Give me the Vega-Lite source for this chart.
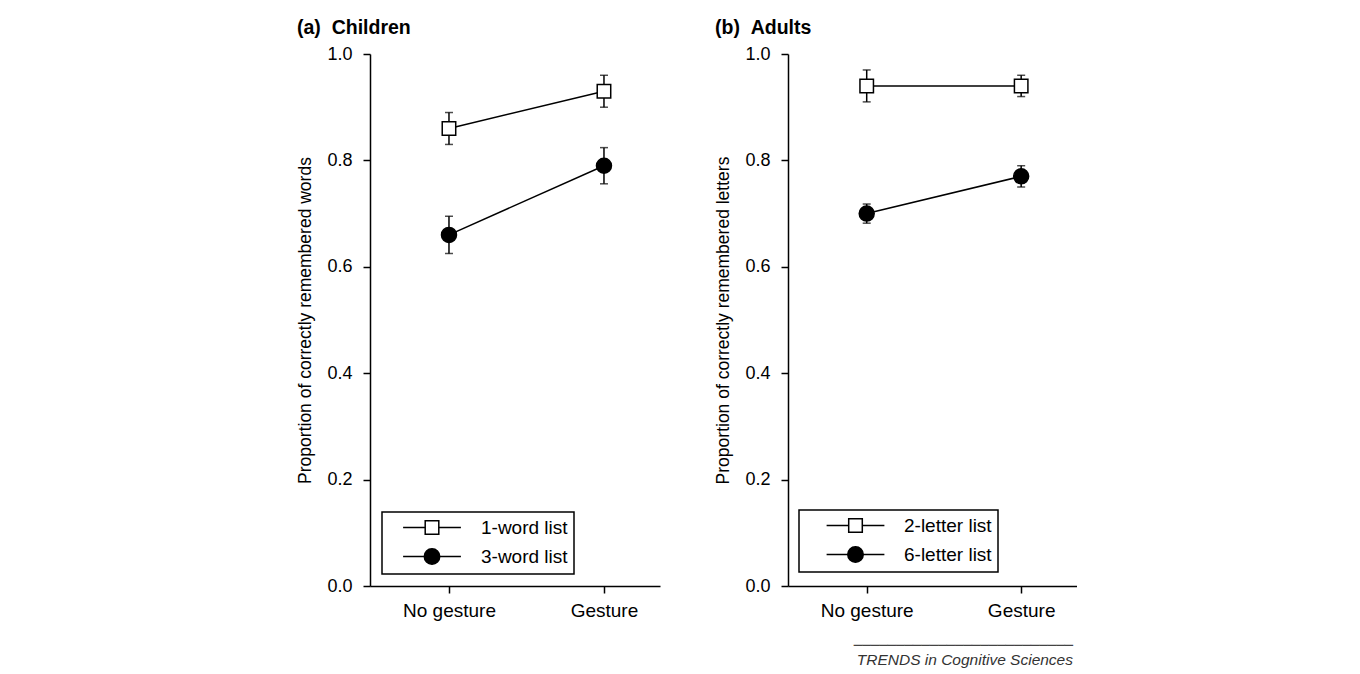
{
  "$schema": "https://vega.github.io/schema/vega-lite/v6.json",
  "background": "white",
  "padding": {"left": 296, "top": 17, "right": 0, "bottom": 0},
  "config": {
    "font": "Liberation Sans",
    "view": {"stroke": null},
    "axis": {
      "grid": false,
      "domainColor": "black",
      "domainWidth": 1.5,
      "tickColor": "black",
      "tickWidth": 1.5,
      "tickSize": 7,
      "labelColor": "black",
      "labelFont": "Liberation Sans",
      "labelFontSize": 18,
      "titleColor": "black",
      "titleFont": "Liberation Sans",
      "titleFontSize": 17.5,
      "titleFontWeight": "normal"
    },
    "axisY": {"labelPadding": 11, "titlePadding": 12},
    "axisX": {"labelPadding": 8, "labelFontSize": 19},
    "legend": {
      "labelFont": "Liberation Sans",
      "labelFontSize": 19,
      "labelColor": "black",
      "strokeColor": "black",
      "strokeWidth": 1.5,
      "padding": 6,
      "symbolSize": 289,
      "symbolStrokeWidth": 1.5,
      "symbolStrokeColor": "black",
      "symbolOpacity": 1,
      "rowPadding": 7
    },
    "title": {"font": "Liberation Sans", "color": "black"}
  },
  "title": {
    "text": "──────────────────────────",
    "subtitle": "TRENDS in Cognitive Sciences",
    "orient": "bottom",
    "anchor": "end",
    "dx": -4,
    "offset": 19,
    "font": "DejaVu Sans",
    "fontSize": 14,
    "fontWeight": "normal",
    "color": "#444444",
    "subtitleFont": "Liberation Sans",
    "subtitleFontStyle": "italic",
    "subtitleFontSize": 15.5,
    "subtitleColor": "#333333",
    "subtitlePadding": 0
  },
  "spacing": 54,
  "resolve": {"scale": {"fill": "independent", "shape": "independent", "stroke": "independent"}},
  "hconcat": [
    {
      "width": 290,
      "height": 532,
      "title": {"text": "(a)\u00a0\u00a0Children", "anchor": "start", "frame": "bounds", "fontSize": 19.5, "fontWeight": "bold", "baseline": "alphabetic", "offset": -8},
      "data": {"values": [
        {"series": "1-word list", "condition": "No gesture", "mean": 0.86, "lo": 0.83, "hi": 0.89},
        {"series": "1-word list", "condition": "Gesture", "mean": 0.93, "lo": 0.90, "hi": 0.96},
        {"series": "3-word list", "condition": "No gesture", "mean": 0.66, "lo": 0.625, "hi": 0.695},
        {"series": "3-word list", "condition": "Gesture", "mean": 0.79, "lo": 0.756, "hi": 0.824}
      ]},
      "encoding": {
        "x": {"field": "condition", "type": "nominal", "sort": ["No gesture", "Gesture"],
              "scale": {"type": "point", "padding": 0.4355, "align": 0.585},
              "axis": {"title": null, "labelAngle": 0}}
      },
      "layer": [
        {"mark": {"type": "line", "color": "black", "strokeWidth": 1.5},
         "encoding": {"detail": {"field": "series"},
                      "y": {"field": "mean", "type": "quantitative", "scale": {"domain": [0, 1]},
                            "title": "Proportion of correctly remembered words",
                            "axis": {"values": [0, 0.2, 0.4, 0.6, 0.8, 1.0], "format": ".1f"}}}},
        {"mark": {"type": "errorbar", "ticks": true, "size": 8, "thickness": 1.5, "color": "black"},
         "encoding": {"y": {"field": "lo", "type": "quantitative", "title": "Proportion of correctly remembered words"}, "y2": {"field": "hi"}}},
        {"mark": {"type": "point", "filled": true, "stroke": "black", "strokeWidth": 1.5, "opacity": 1},
         "encoding": {
           "y": {"field": "mean", "type": "quantitative", "title": "Proportion of correctly remembered words"},
           "shape": {"condition": {"test": "datum.series === '1-word list'", "value": "square"}, "value": "circle"},
           "size": {"condition": {"test": "datum.series === '1-word list'", "value": 182}, "value": 225},
           "fill": {"condition": {"test": "datum.series === '1-word list'", "value": "white"}, "value": "black"}
         }},
        {"mark": {"type": "point", "filled": true, "strokeWidth": 1.5, "opacity": 0},
         "encoding": {
           "y": {"field": "mean", "type": "quantitative", "title": "Proportion of correctly remembered words"},
           "shape": {"field": "series", "type": "nominal",
                     "scale": {"domain": ["1-word list", "3-word list"], "range": ["M-3.4,0H-0.8M0.8,0H3.4M-0.8,-0.8H0.8V0.8H-0.8Z", "M-3.4,0H-0.91M0.91,0H3.4M-0.91,0A0.91,0.91,0,1,0,0.91,0A0.91,0.91,0,1,0,-0.91,0Z"]}},
           "stroke": {"field": "series", "type": "nominal", "scale": {"domain": ["1-word list", "3-word list"], "range": ["black", "black"]}},
           "fill": {"field": "series", "type": "nominal", "scale": {"domain": ["1-word list", "3-word list"], "range": ["white", "black"]},
                    "legend": {"title": null, "orient": "none", "legendX": 12, "legendY": 458,
                               "symbolOffset": 34.5, "labelOffset": 39.5}}
         }}
      ]
    },
    {
      "width": 289,
      "height": 532,
      "title": {"text": "(b)\u00a0\u00a0Adults", "anchor": "start", "frame": "bounds", "fontSize": 19.5, "fontWeight": "bold", "baseline": "alphabetic", "offset": -8},
      "data": {"values": [
        {"series": "2-letter list", "condition": "No gesture", "mean": 0.94, "lo": 0.91, "hi": 0.97},
        {"series": "2-letter list", "condition": "Gesture", "mean": 0.94, "lo": 0.92, "hi": 0.96},
        {"series": "6-letter list", "condition": "No gesture", "mean": 0.70, "lo": 0.682, "hi": 0.718},
        {"series": "6-letter list", "condition": "Gesture", "mean": 0.77, "lo": 0.75, "hi": 0.79}
      ]},
      "encoding": {
        "x": {"field": "condition", "type": "nominal", "sort": ["No gesture", "Gesture"],
              "scale": {"type": "point", "padding": 0.4355, "align": 0.585},
              "axis": {"title": null, "labelAngle": 0}}
      },
      "layer": [
        {"mark": {"type": "line", "color": "black", "strokeWidth": 1.5},
         "encoding": {"detail": {"field": "series"},
                      "y": {"field": "mean", "type": "quantitative", "scale": {"domain": [0, 1]},
                            "title": "Proportion of correctly remembered letters",
                            "axis": {"values": [0, 0.2, 0.4, 0.6, 0.8, 1.0], "format": ".1f"}}}},
        {"mark": {"type": "errorbar", "ticks": true, "size": 8, "thickness": 1.5, "color": "black"},
         "encoding": {"y": {"field": "lo", "type": "quantitative", "title": "Proportion of correctly remembered letters"}, "y2": {"field": "hi"}}},
        {"mark": {"type": "point", "filled": true, "stroke": "black", "strokeWidth": 1.5, "opacity": 1},
         "encoding": {
           "y": {"field": "mean", "type": "quantitative", "title": "Proportion of correctly remembered letters"},
           "shape": {"condition": {"test": "datum.series === '2-letter list'", "value": "square"}, "value": "circle"},
           "size": {"condition": {"test": "datum.series === '2-letter list'", "value": 182}, "value": 225},
           "fill": {"condition": {"test": "datum.series === '2-letter list'", "value": "white"}, "value": "black"}
         }},
        {"mark": {"type": "point", "filled": true, "strokeWidth": 1.5, "opacity": 0},
         "encoding": {
           "y": {"field": "mean", "type": "quantitative", "title": "Proportion of correctly remembered letters"},
           "shape": {"field": "series", "type": "nominal",
                     "scale": {"domain": ["2-letter list", "6-letter list"], "range": ["M-3.4,0H-0.8M0.8,0H3.4M-0.8,-0.8H0.8V0.8H-0.8Z", "M-3.4,0H-0.91M0.91,0H3.4M-0.91,0A0.91,0.91,0,1,0,0.91,0A0.91,0.91,0,1,0,-0.91,0Z"]}},
           "stroke": {"field": "series", "type": "nominal", "scale": {"domain": ["2-letter list", "6-letter list"], "range": ["black", "black"]}},
           "fill": {"field": "series", "type": "nominal", "scale": {"domain": ["2-letter list", "6-letter list"], "range": ["white", "black"]},
                    "legend": {"title": null, "orient": "none", "legendX": 11, "legendY": 456,
                               "symbolOffset": 41, "labelOffset": 39}}
         }}
      ]
    }
  ]
}
